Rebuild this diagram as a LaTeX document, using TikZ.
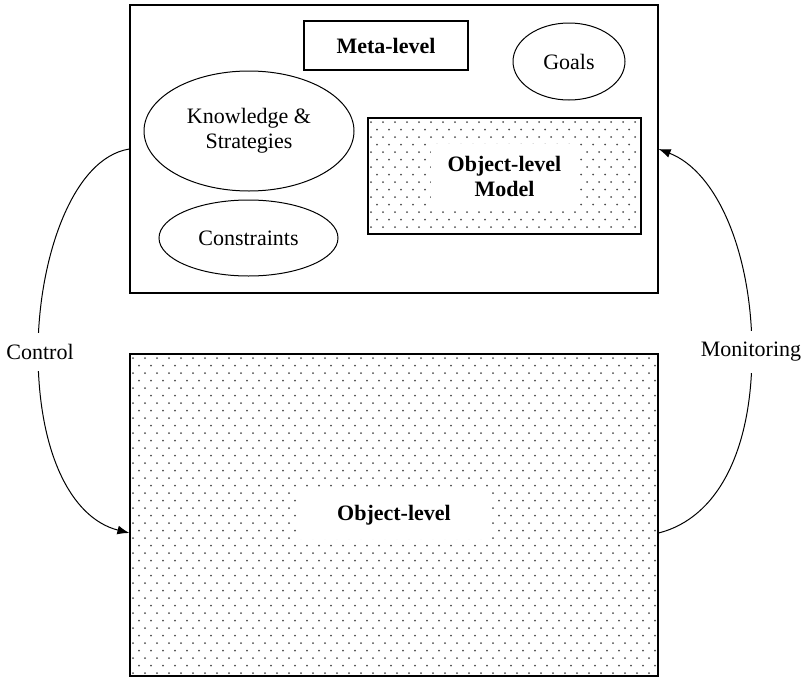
\documentclass[tikz,border=0pt]{standalone}
\usepackage{fontspec}
\setmainfont{Liberation Serif}
\usetikzlibrary{shapes.geometric,arrows.meta}
\tikzset{
  box/.style={draw, line width=1.2pt, inner sep=0pt},
  oval/.style={draw, ellipse, line width=1pt, inner sep=0pt, align=center},
  lbl/.style={font=\fontsize{22}{25}\selectfont, align=center},
  blbl/.style={font=\fontsize{22}{25}\selectfont\bfseries, align=center},
  arr/.style={line width=1pt, -{Latex[length=12pt,width=9pt]}},
  dotc/.style={fill=black!70}
}
\newcommand{\mydotpattern}[4]{%
  \begin{scope}
    \clip (#1,#2) rectangle (#3,#4);
    \pgfmathtruncatemacro\nrows{(#4-#2)/7.5+1}
    \pgfmathtruncatemacro\ncols{(#3-#1)/12+1}
    \foreach \j in {0,...,\nrows} {
      \pgfmathsetmacro\off{mod(\j,2)*6}
      \foreach \i in {0,...,\ncols} {
        \fill[dotc] (#1+3+\off+\i*12, #2+4+\j*7.5) circle (1.0);
      }
    }
  \end{scope}}
\begin{document}
\begin{tikzpicture}[x=1pt,y=-1pt]
\useasboundingbox (0,0) rectangle (804,678);
% dot patterns
\mydotpattern{130}{354}{658}{676}
\mydotpattern{368}{118}{641}{234}
% boxes
\node[box, minimum width=528pt, minimum height=288pt] (meta) at (394,149) {};
\node[box, minimum width=528pt, minimum height=322pt] (obj) at (394,515) {};
\node[box, minimum width=273pt, minimum height=116pt] (model) at (504.5,176) {};
\node[box, minimum width=164pt, minimum height=49pt] (metalbl) at (386,45.5) {};
\node[blbl] at (metalbl) {Meta-level};
% ellipses
\node[oval, minimum width=112pt, minimum height=77pt] (goals) at (569,61.5) {};
\node[lbl] at (goals) {Goals};
\node[oval, minimum width=210pt, minimum height=120pt] (know) at (249,131) {};
\node[lbl] at (know) {Knowledge \&\\Strategies};
\node[oval, minimum width=179pt, minimum height=76pt] (cons) at (248.5,238) {};
\node[lbl] at (cons) {Constraints};
% white labels on patterns
\node[blbl, fill=white, inner xsep=17pt, inner ysep=12pt] (modellbl) at (model) {Object-level\\Model};
\node[blbl, fill=white, inner xsep=38pt, inner ysep=14pt] (objlbl) at (obj) {Object-level};
% connectors
\coordinate (cend) at ([yshift=-18pt]obj.west);
\coordinate (mstart) at ([yshift=-18pt]obj.east);
\coordinate (cmid) at (38,352);
\coordinate (mmid) at (752,352);
\draw[arr] (meta.west) .. controls (72,158) and (38,260) .. (cmid)
  .. controls (38,450) and (70,518) .. (cend);
\draw[arr] (mstart) .. controls (718,518) and (752,450) .. (mmid)
  .. controls (752,255) and (718,172) .. (meta.east);
\node[lbl, fill=white, inner xsep=2pt, inner ysep=11pt] (ctrl) at (40,352) {Control};
\node[lbl, fill=white, inner xsep=2pt, inner ysep=11pt] (mon) at (751,352) {Monitoring};
\end{tikzpicture}
\end{document}
